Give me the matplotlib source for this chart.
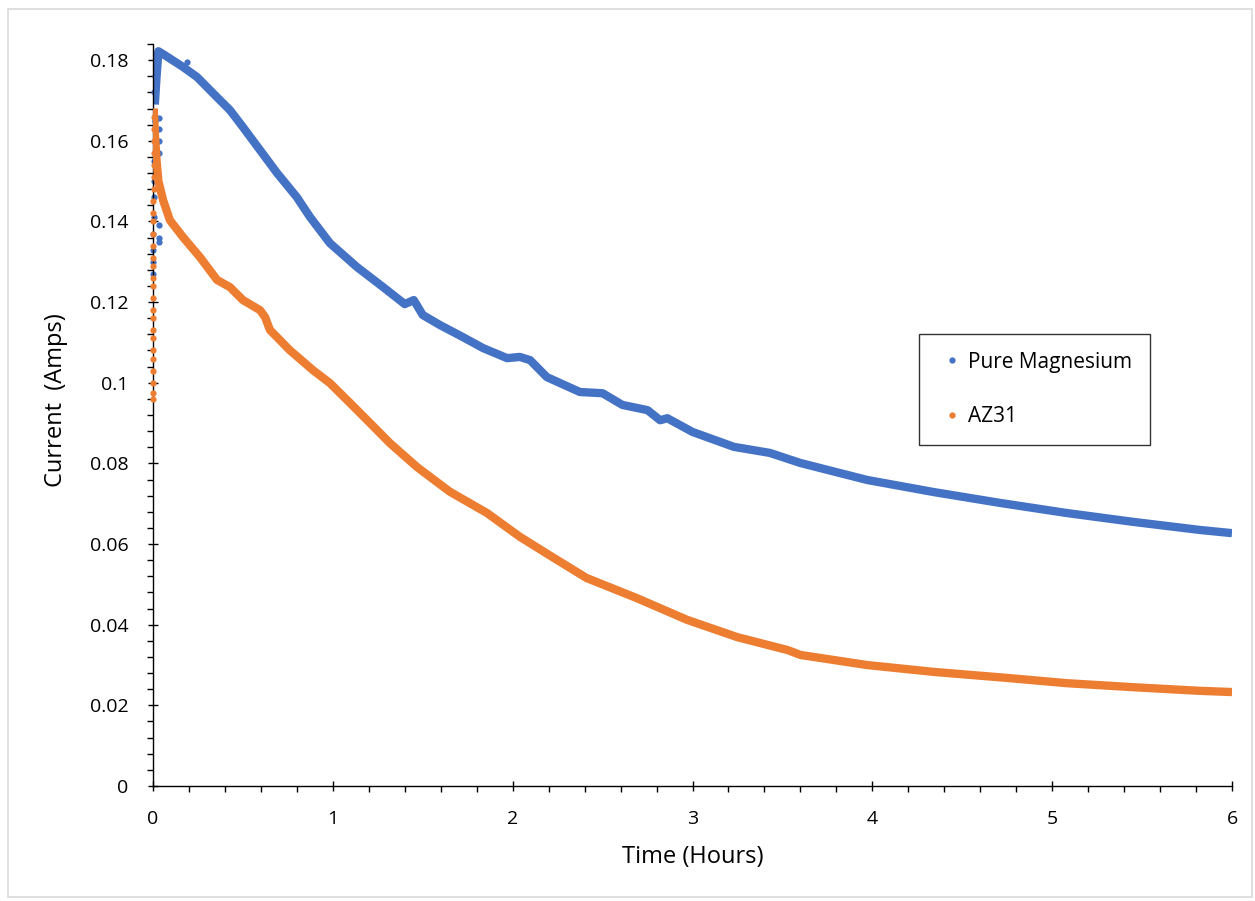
import matplotlib
matplotlib.use("Agg")
import matplotlib.pyplot as plt
from matplotlib.lines import Line2D
from matplotlib.patches import Rectangle
from matplotlib.ticker import MultipleLocator, FixedLocator, FixedFormatter

# Pure magnesium: main decay trace (hours, amps)
mg_time = [0.010, 0.020, 0.030, 0.056, 0.167, 0.245, 0.356, 0.428, 0.500, 0.595,
           0.690, 0.800, 0.873, 0.984, 1.134, 1.280, 1.400, 1.450, 1.500, 1.596,
           1.724, 1.835, 1.969, 2.040, 2.097, 2.190, 2.374, 2.500, 2.610, 2.750,
           2.820, 2.860, 3.000, 3.230, 3.430, 3.600, 3.970, 4.340, 4.710, 5.080,
           5.450, 5.820, 6.000]
mg_current = [0.1690, 0.1760, 0.1822, 0.1815, 0.1783, 0.1758, 0.1708, 0.1676, 0.1634, 0.1577,
              0.1520, 0.1460, 0.1411, 0.1346, 0.1287, 0.1237, 0.1195, 0.1205, 0.1168, 0.1143,
              0.1113, 0.1086, 0.1061, 0.1064, 0.1056, 0.1014, 0.0977, 0.0974, 0.0945, 0.0932,
              0.0907, 0.0912, 0.0878, 0.0841, 0.0826, 0.0801, 0.0759, 0.0729, 0.0702, 0.0677,
              0.0655, 0.0635, 0.0627]

# Pure magnesium: scattered readings during start-up
mg_start_time = [0.000, 0.000, 0.002, 0.002, 0.004, 0.004, 0.006, 0.008, 0.010, 0.012,
                 0.035, 0.035, 0.035, 0.035, 0.035, 0.035, 0.035, 0.190,
                 0.005, 0.010, 0.015, 0.020, 0.025]
mg_start_current = [0.127, 0.130, 0.133, 0.137, 0.141, 0.146, 0.150, 0.155, 0.160, 0.165,
                    0.1656, 0.163, 0.160, 0.157, 0.139, 0.136, 0.135, 0.1795,
                    0.172, 0.176, 0.179, 0.181, 0.182]

# AZ31: main decay trace
az_time = [0.004, 0.010, 0.020, 0.030, 0.056, 0.094, 0.167, 0.260, 0.356, 0.428,
           0.500, 0.595, 0.623, 0.650, 0.760, 0.890, 0.984, 1.095, 1.207, 1.318,
           1.468, 1.650, 1.857, 2.040, 2.220, 2.410, 2.690, 2.970, 3.250, 3.530,
           3.600, 3.970, 4.340, 4.750, 5.080, 5.450, 5.820, 6.000]
az_current = [0.1680, 0.1620, 0.1550, 0.1500, 0.1453, 0.1403, 0.1361, 0.1312, 0.1255, 0.1237,
              0.1205, 0.1180, 0.1163, 0.1131, 0.1081, 0.1031, 0.0999, 0.0950, 0.0900, 0.0850,
              0.0791, 0.0730, 0.0677, 0.0618, 0.0568, 0.0516, 0.0466, 0.0412, 0.0369, 0.0337,
              0.0325, 0.0300, 0.0283, 0.0268, 0.0255, 0.0245, 0.0236, 0.0233]

# AZ31: start-up ramp readings
az_start_time = [0.000, 0.000, 0.000, 0.000, 0.000, 0.000, 0.001, 0.001, 0.001, 0.001,
                 0.001, 0.001, 0.001, 0.002, 0.002, 0.002, 0.002, 0.002, 0.002, 0.002,
                 0.003, 0.003, 0.003, 0.003, 0.003, 0.003, 0.003]
az_start_current = [0.096, 0.0975, 0.100, 0.103, 0.106, 0.108, 0.111, 0.113, 0.116, 0.118,
                    0.121, 0.124, 0.126, 0.129, 0.131, 0.134, 0.137, 0.140, 0.142, 0.145,
                    0.148, 0.151, 0.154, 0.157, 0.160, 0.163, 0.166]

y_ticks = [0, 0.02, 0.04, 0.06, 0.08, 0.1, 0.12, 0.14, 0.16, 0.18]
y_tick_labels = ["0", "0.02", "0.04", "0.06", "0.08", "0.1", "0.12", "0.14", "0.16", "0.18"]
x_ticks = [0, 1, 2, 3, 4, 5, 6]

blue = "#4472C4"
orange = "#ED7D31"
plt.rcParams["font.family"] = ["Open Sans", "DejaVu Sans"]

fig = plt.figure(figsize=(12.55, 9.01), dpi=100)
ax = fig.add_axes([153 / 1255, 1 - 786 / 901, (1232 - 153) / 1255, (786 - 44) / 901])

# light grey chart-area border
fig.patches.append(Rectangle((8 / 1255, 1 - 897 / 901), 1244 / 1255, 888 / 901,
                             transform=fig.transFigure, fill=False,
                             edgecolor="#D9D9D9", linewidth=1.2))

ax.plot(mg_time, mg_current, color=blue, lw=6, solid_capstyle="butt", zorder=2)
ax.plot(mg_start_time, mg_start_current, "o", color=blue, ms=4.5, mew=0, zorder=2, clip_on=False)
ax.plot(az_time, az_current, color=orange, lw=6, solid_capstyle="butt", zorder=3)
ax.plot(az_start_time, az_start_current, "o", color=orange, ms=4.5, mew=0, zorder=3, clip_on=False)

ax.set_xlim(0, 6)
ax.set_ylim(0, 0.184)
ax.xaxis.set_major_locator(FixedLocator(x_ticks))
ax.xaxis.set_minor_locator(MultipleLocator(0.2))
ax.yaxis.set_major_locator(FixedLocator(y_ticks))
ax.yaxis.set_major_formatter(FixedFormatter(y_tick_labels))
ax.yaxis.set_minor_locator(MultipleLocator(0.004))

for side in ["top", "right"]:
    ax.spines[side].set_visible(False)
for side in ["left", "bottom"]:
    ax.spines[side].set_linewidth(1.0)
    ax.spines[side].set_color("black")

ax.tick_params(which="major", direction="inout", length=7, width=1.0, labelsize=14)
ax.tick_params(which="minor", direction="out", length=4, width=1.0)
ax.tick_params(axis="x", which="major", pad=14)
ax.tick_params(axis="y", which="major", pad=14)

ax.set_xlabel("Time (Hours)", fontsize=17)
ax.set_ylabel("Current  (Amps)", fontsize=17)
ax.xaxis.set_label_coords(0.5, -0.079)
ax.yaxis.set_label_coords(-0.079, 0.52)

handles = [Line2D([], [], ls="none", marker="o", ms=4.5, mew=0, color=blue),
           Line2D([], [], ls="none", marker="o", ms=4.5, mew=0, color=orange)]
leg = ax.legend(handles, ["Pure Magnesium", "AZ31"], loc="upper left",
                bbox_to_anchor=(919 / 1255, 1 - 334 / 901), bbox_transform=fig.transFigure,
                fontsize=15, frameon=True, fancybox=False, edgecolor="black",
                borderpad=0.85, labelspacing=1.6, handlelength=1.47, handletextpad=0.05,
                borderaxespad=0)
leg.get_frame().set_linewidth(1.0)

fig.savefig("out.png", dpi=100, facecolor="white")
